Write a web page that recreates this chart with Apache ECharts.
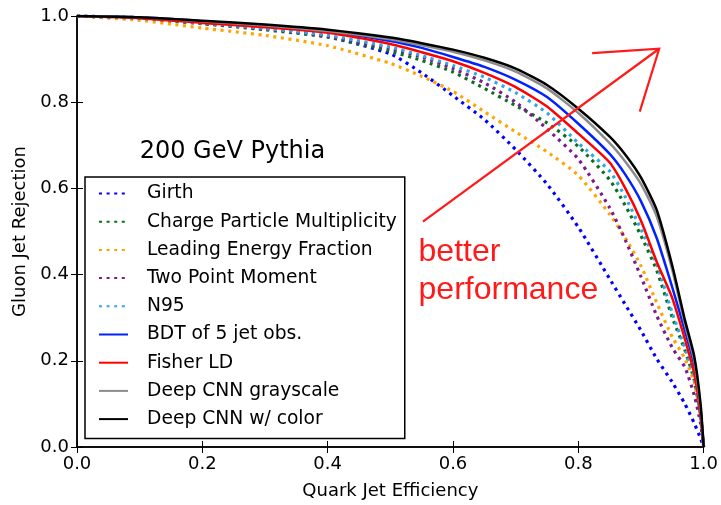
<!DOCTYPE html>
<html>
<head>
<meta charset="utf-8">
<script src="https://cdn.jsdelivr.net/npm/echarts@6/dist/echarts.min.js"></script>
<style>
  html, body { margin: 0; padding: 0; background: #fff; }
  #chart { width: 721px; height: 505px; }
</style>
</head>
<body>
<div id="chart"></div>
<script>
// Quark jet efficiency (x) shared by every ROC curve
const efficiency = [0, 0.1, 0.2, 0.3, 0.4, 0.5, 0.55, 0.6, 0.65, 0.7, 0.75, 0.8, 0.85, 0.875, 0.9, 0.925, 0.95, 0.97, 0.985, 0.995, 1.0];

// Gluon jet rejection for each discriminant
const girth        = [1, 0.996, 0.986, 0.972, 0.952, 0.912, 0.868, 0.815, 0.760, 0.690, 0.610, 0.510, 0.390, 0.330, 0.270, 0.205, 0.150, 0.100, 0.055, 0.020, 0];
const chargeMult   = [1, 0.994, 0.982, 0.968, 0.951, 0.918, 0.897, 0.870, 0.832, 0.792, 0.752, 0.697, 0.620, 0.560, 0.490, 0.410, 0.300, 0.225, 0.155, 0.070, 0];
const leadingFrac  = [1, 0.990, 0.972, 0.955, 0.931, 0.890, 0.860, 0.825, 0.778, 0.731, 0.685, 0.630, 0.540, 0.485, 0.420, 0.335, 0.255, 0.205, 0.150, 0.070, 0];
const twoPoint     = [1, 0.995, 0.983, 0.970, 0.953, 0.925, 0.905, 0.878, 0.845, 0.800, 0.738, 0.668, 0.555, 0.480, 0.395, 0.305, 0.230, 0.185, 0.120, 0.055, 0];
const n95          = [1, 0.995, 0.984, 0.971, 0.955, 0.928, 0.908, 0.885, 0.858, 0.822, 0.775, 0.705, 0.640, 0.580, 0.505, 0.425, 0.310, 0.230, 0.160, 0.070, 0];
const bdt          = [1, 0.997, 0.988, 0.977, 0.964, 0.942, 0.926, 0.905, 0.882, 0.852, 0.812, 0.750, 0.680, 0.632, 0.570, 0.485, 0.370, 0.270, 0.190, 0.085, 0];
const fisher       = [1, 0.995, 0.984, 0.974, 0.961, 0.935, 0.916, 0.895, 0.868, 0.835, 0.790, 0.727, 0.660, 0.600, 0.525, 0.430, 0.345, 0.250, 0.170, 0.075, 0];
const cnnGray      = [1, 0.997, 0.988, 0.978, 0.965, 0.946, 0.932, 0.917, 0.897, 0.871, 0.832, 0.775, 0.705, 0.662, 0.610, 0.535, 0.410, 0.285, 0.200, 0.090, 0];
const cnnColor     = [1, 0.997, 0.989, 0.980, 0.968, 0.950, 0.937, 0.922, 0.903, 0.878, 0.840, 0.785, 0.720, 0.678, 0.625, 0.550, 0.420, 0.295, 0.210, 0.100, 0];

const seriesNames = [
  'Girth', 'Charge Particle Multiplicity', 'Leading Energy Fraction', 'Two Point Moment',
  'N95', 'BDT of 5 jet obs.', 'Fisher LD', 'Deep CNN grayscale', 'Deep CNN w/ color'
];
const seriesValues = [girth, chargeMult, leadingFrac, twoPoint, n95, bdt, fisher, cnnGray, cnnColor];
const seriesColors = ['#0000ff', '#0a6e1e', '#ffa500', '#7d1a8c', '#2ea8e6', '#0022ff', '#ff0000', '#8c8c8c', '#000000'];
const seriesDotted = [true, true, true, true, true, false, false, false, false];

const xTicks = [0, 0.2, 0.4, 0.6, 0.8, 1.0];
const yTicks = [0, 0.2, 0.4, 0.6, 0.8, 1.0];

const FONT = 'DejaVu Sans';
const chart = echarts.init(document.getElementById('chart'), null, { renderer: 'canvas' });

const series = seriesNames.map((name, i) => ({
  name,
  type: 'line',
  data: efficiency.map((x, k) => [x, seriesValues[i][k]]),
  symbol: 'none',
  smooth: 0.2,
  silent: true,
  z: 2 + i,
  lineStyle: {
    color: seriesColors[i],
    width: seriesDotted[i] ? 3.2 : 2.5,
    type: seriesDotted[i] ? [3, 4.6] : 'solid',
    cap: 'butt',
    join: 'round'
  },
  itemStyle: { color: seriesColors[i] }
}));

const tickFmt = v => v.toFixed(1);
const frameLine = { show: true, lineStyle: { color: '#000', width: 1.5 } };
const innerTick = { show: true, inside: true, length: 6, lineStyle: { color: '#000', width: 1 } };

chart.setOption({
  animation: false,
  backgroundColor: '#fff',
  grid: { left: 77, top: 16, right: 14, bottom: 57, containLabel: false },
  xAxis: [
    {
      type: 'value', min: 0, max: 1, interval: 0.2, position: 'bottom',
      name: 'Quark Jet Efficiency', nameLocation: 'middle', nameGap: 35,
      nameTextStyle: { fontFamily: FONT, fontSize: 18, color: '#000' },
      axisLine: frameLine, axisTick: innerTick, splitLine: { show: false },
      axisLabel: { fontFamily: FONT, fontSize: 18, color: '#000', margin: 8,
        formatter: v => xTicks.includes(+v.toFixed(1)) ? tickFmt(v) : '' }
    },
    {
      type: 'value', min: 0, max: 1, interval: 0.2, position: 'top',
      axisLine: frameLine, axisTick: innerTick, splitLine: { show: false },
      axisLabel: { show: false }
    }
  ],
  yAxis: [
    {
      type: 'value', min: 0, max: 1, interval: 0.2, position: 'left',
      name: 'Gluon Jet Rejection', nameLocation: 'middle', nameGap: 48, nameRotate: 90,
      nameTextStyle: { fontFamily: FONT, fontSize: 18, color: '#000' },
      axisLine: frameLine, axisTick: innerTick, splitLine: { show: false },
      axisLabel: { fontFamily: FONT, fontSize: 18, color: '#000', margin: 8,
        formatter: v => yTicks.includes(+v.toFixed(1)) ? tickFmt(v) : '' }
    },
    {
      type: 'value', min: 0, max: 1, interval: 0.2, position: 'right',
      axisLine: frameLine, axisTick: innerTick, splitLine: { show: false },
      axisLabel: { show: false }
    }
  ],
  legend: {
    orient: 'vertical',
    left: 85, top: 177,
    padding: [7, 8, 10, 13],
    itemWidth: 29, itemHeight: 10, itemGap: 9.2,
    backgroundColor: '#fff',
    borderColor: '#000', borderWidth: 1.5, borderRadius: 0,
    selectedMode: false,
    data: seriesNames,
    itemStyle: { opacity: 0 },
    textStyle: { fontFamily: FONT, fontSize: 18.7, lineHeight: 18, color: '#000', padding: [0, 0, 0, 14] }
  },
  series
});

// Title text and the "better performance" arrow, placed in data units
const toPx = (x, y) => chart.convertToPixel({ xAxisIndex: 0, yAxisIndex: 0 }, [x, y]);
const tail = toPx(0.552, 0.523), tip = toPx(0.929, 0.924);
const head1 = toPx(0.822, 0.914), head2 = toPx(0.898, 0.778);
const titlePos = toPx(0.10, 0.686);
const textPos = toPx(0.545, 0.455);

chart.setOption({
  graphic: [
    { type: 'text', left: titlePos[0], top: titlePos[1] - 12, z: 20,
      style: { text: '200 GeV Pythia', font: '24px "DejaVu Sans"', fill: '#000' } },
    { type: 'polyline', z: 20, shape: { points: [tail, tip] },
      style: { stroke: '#ff1a1a', lineWidth: 2.2, fill: null } },
    { type: 'polyline', z: 20, shape: { points: [head1, tip, head2] },
      style: { stroke: '#ff1a1a', lineWidth: 2.2, fill: null } },
    { type: 'text', left: textPos[0], top: textPos[1] - 18, z: 20,
      style: { text: 'better\nperformance', font: '32px "Liberation Sans"', lineHeight: 38, fill: '#ff1a1a' } }
  ]
});
</script>
</body>
</html>
